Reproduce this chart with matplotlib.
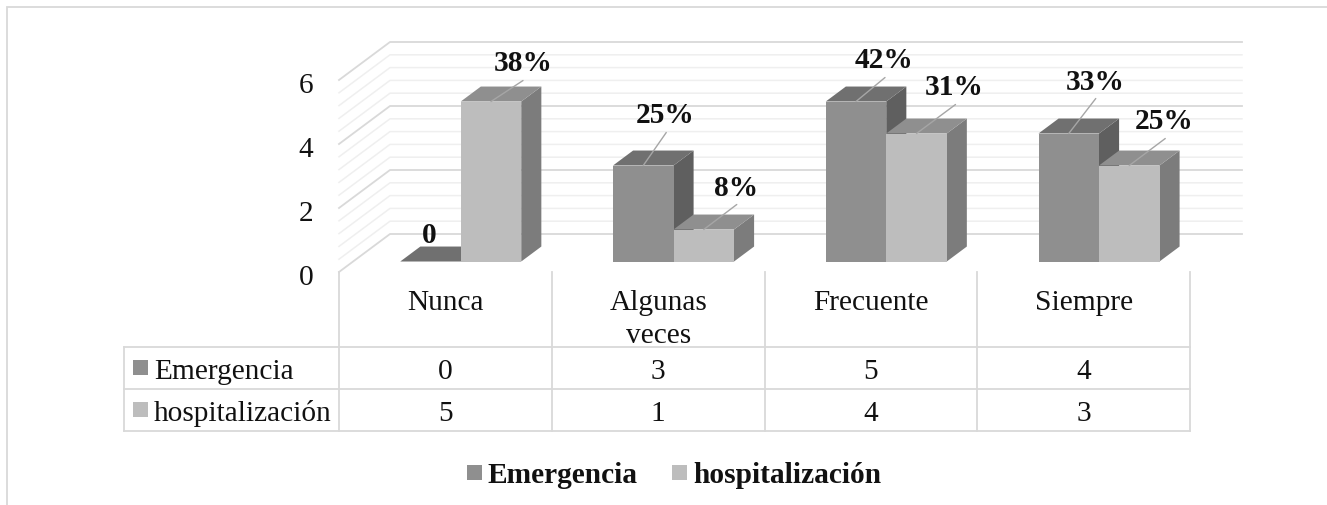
import matplotlib
matplotlib.use("Agg")
import matplotlib.pyplot as plt
from matplotlib.patches import Polygon, Rectangle

W, H = 1327, 506

categories = ["Nunca", "Algunas\nveces", "Frecuente", "Siempre"]
series_names = ["Emergencia", "hospitalización"]
emergencia = [0, 3, 5, 4]
hospitalizacion = [5, 1, 4, 3]
emergencia_labels = ["0", "25%", "42%", "33%"]
hospitalizacion_labels = ["38%", "8%", "31%", "25%"]
y_ticks = [0, 2, 4, 6]

# pixel offsets of each data label from the bar's top edge
emergencia_offsets = [(-1, 29), (22, 53), (28, 44), (26, 54)]
hospitalizacion_offsets = [(32, 41), (32, 44), (38, 49), (35, 47)]
# data labels joined to the bar by a thin leader
emergencia_leaders = [None, (23, 33), (29, 24), (27, 35)]
hospitalizacion_leaders = [(32, 21), (33, 25), (39, 29), (36, 27)]

FRONT = ["#8f8f8f", "#bdbdbd"]
TOP = ["#707070", "#8f8f8f"]
SIDE = ["#5f5f5f", "#7c7c7c"]
GRID_MAJOR = "#d9d9d9"
GRID_MINOR = "#efefef"
TEXT = "#111111"

# one category step and one value unit, in pixels
CAT_PX = 212.75
VAL_PX = 32.0
X0_PX = 339.0
Y0_PX = 273.0

# projection of the depth axis: floor front to back wall
DEPTH_X = 51.0 / CAT_PX
DEPTH_Y = 38.0 / VAL_PX
BAR_FRONT = 0.276
BAR_BACK = 0.67
BAR_W = 60.5 / CAT_PX
GAP = (1 - 2 * BAR_W) / 2 + 1.3 / CAT_PX

# centred text sits a little high in this font
TEXT_DROP = 3


def project(x, v, depth):
    return x + depth * DEPTH_X, v + depth * DEPTH_Y


def draw_bar(ax, x, v, k):
    x0, x1 = x, x + BAR_W
    f00 = project(x0, 0, BAR_FRONT)
    f10 = project(x1, 0, BAR_FRONT)
    f11 = project(x1, v, BAR_FRONT)
    f01 = project(x0, v, BAR_FRONT)
    b10 = project(x1, 0, BAR_BACK)
    b11 = project(x1, v, BAR_BACK)
    b01 = project(x0, v, BAR_BACK)
    ax.add_patch(Polygon([f10, b10, b11, f11], fc=SIDE[k], ec="none", zorder=3 + x))
    ax.add_patch(Polygon([f01, f11, b11, b01], fc=TOP[k], ec="none", zorder=3 + x))
    if v > 0:
        ax.add_patch(Polygon([f00, f10, f11, f01], fc=FRONT[k], ec="none", zorder=3 + x))
    return (x0 + x1) / 2 + BAR_FRONT * DEPTH_X, v + BAR_FRONT * DEPTH_Y


plt.rcParams["font.family"] = ["Liberation Serif", "DejaVu Serif"]
FS = 21.2

fig = plt.figure(figsize=(W / 100, H / 100), dpi=100, facecolor="white")

# pixel-space layer for the outer frame, table rules and legend
frame = fig.add_axes([0, 0, 1, 1])
frame.set_xlim(0, W)
frame.set_ylim(H, 0)
frame.axis("off")

# chart layer: x in category steps, y in value units
ax = fig.add_axes([0, 0, 1, 1], facecolor="none")
ax.set_xlim(-X0_PX / CAT_PX, (W - X0_PX) / CAT_PX)
ax.set_ylim((Y0_PX - H) / VAL_PX, Y0_PX / VAL_PX)
ax.axis("off")

# outer frame, open on the right and at the bottom
frame.plot([7, 7, W], [H, 8, 8], color=GRID_MAJOR, lw=1.3, solid_joinstyle="miter")

# walls: five minor divisions per major gridline
right_end = 4 + 1 / CAT_PX
for i in range(16):
    v = i * 0.4
    major = i % 5 == 0
    col = GRID_MAJOR if major else GRID_MINOR
    lw = 1.3 if major else 1.1
    xs, ys = zip(project(0, v, 0), project(0, v, 1), project(right_end, v, 1))
    ax.plot(xs, ys, color=col, lw=lw, zorder=1 + major * 0.5)

for v in y_ticks:
    ax.text(-33 / CAT_PX, v - (TEXT_DROP + 2) / VAL_PX, str(v), ha="center", va="center",
            fontsize=FS, color=TEXT)

# bars, data labels and leaders
all_values = [emergencia, hospitalizacion]
all_labels = [emergencia_labels, hospitalizacion_labels]
all_offsets = [emergencia_offsets, hospitalizacion_offsets]
all_leaders = [emergencia_leaders, hospitalizacion_leaders]
for k in range(2):
    for c in range(len(categories)):
        x = c + GAP + k * BAR_W
        top = draw_bar(ax, x, all_values[k][c], k)
        leader = all_leaders[k][c]
        if leader is not None:
            ax.annotate("", xy=top, xytext=leader, textcoords="offset pixels",
                        arrowprops=dict(arrowstyle="-", color="#a6a6a6", lw=1.0,
                                        shrinkA=0, shrinkB=0), zorder=20)
        off_x, off_y = all_offsets[k][c]
        ax.annotate(all_labels[k][c], xy=top, xytext=(off_x, off_y - TEXT_DROP + 1),
                    textcoords="offset pixels", ha="center", va="center",
                    fontsize=FS, fontweight="bold", color=TEXT, zorder=21)

# data table under the plot
col_edges = [339 + CAT_PX * i for i in range(5)]
row_edges = [348, 390, 431.5]
table_left = 124
for x in col_edges:
    frame.plot([x, x], [273, row_edges[-1]], color=GRID_MAJOR, lw=1.3)
frame.plot([table_left, table_left], [row_edges[0], row_edges[-1]], color=GRID_MAJOR, lw=1.3)
for y in row_edges:
    frame.plot([table_left, col_edges[-1]], [y, y], color=GRID_MAJOR, lw=1.3)

for c, name in enumerate(categories):
    cx = (col_edges[c] + col_edges[c + 1]) / 2
    lines = name.split("\n")
    for j, line in enumerate(lines):
        frame.text(cx, 300 + TEXT_DROP + j * 33, line, ha="center", va="center", fontsize=FS, color=TEXT)

for k, name in enumerate(series_names):
    y_mid = (row_edges[k] + row_edges[k + 1]) / 2
    frame.add_patch(Rectangle((133, y_mid - 8), 15, 15, fc=FRONT[k], ec="none"))
    frame.text(154, y_mid + TEXT_DROP, name, ha="left", va="center", fontsize=FS, color=TEXT)
    for c, v in enumerate(all_values[k]):
        cx = (col_edges[c] + col_edges[c + 1]) / 2
        frame.text(cx, y_mid + TEXT_DROP, str(v), ha="center", va="center", fontsize=FS, color=TEXT)

# legend below the table
legend_pos = [(467, 487.5), (672, 693)]
for k, name in enumerate(series_names):
    sq, tx = legend_pos[k]
    frame.add_patch(Rectangle((sq, 466), 15, 15, fc=FRONT[k], ec="none"))
    frame.text(tx, 473 + TEXT_DROP, name, ha="left", va="center", fontsize=FS, fontweight="bold", color=TEXT)

fig.savefig("out.png", dpi=100)
